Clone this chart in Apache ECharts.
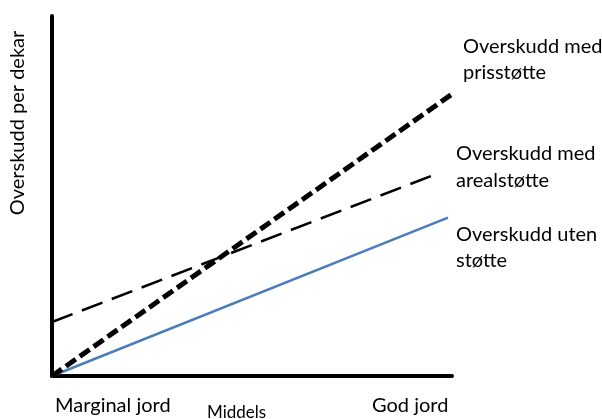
<!DOCTYPE html>
<html>
<head>
<meta charset="utf-8">
<script src="https://cdn.jsdelivr.net/npm/echarts@6/dist/echarts.min.js"></script>
<style>
  html, body { margin: 0; padding: 0; background: #fff; }
  #main { width: 602px; height: 419px; }
</style>
</head>
<body>
<div id="main"></div>
<script>
// x = jordkvalitet (0 = marginal, 100 = god), y = overskudd per dekar
var utenStotteX = [0, 99];
var utenStotteY = [0, 44];
var prisStotteX = [0, 100];
var prisStotteY = [0, 78.3];
var arealStotteX = [0, 96.75];
var arealStotteY = [15, 56.4];

var xLabels = ['Marginal jord', 'Middels', 'God jord'];
var seriesLabels = ['Overskudd med\nprisstøtte', 'Overskudd med\narealstøtte', 'Overskudd uten\nstøtte'];
var yTitle = 'Overskudd per dekar';

function pairs(xs, ys) {
  return xs.map(function (x, i) { return [x, ys[i]]; });
}

var font = 'Lato, "Open Sans", sans-serif';
var myChart = echarts.init(document.getElementById('main'));

myChart.setOption({
  animation: false,
  grid: { left: 52, right: 150, top: 16, bottom: 43 },
  xAxis: {
    type: 'value', min: 0, max: 100,
    axisLine: { show: true, lineStyle: { color: '#000', width: 4 } },
    axisTick: { show: false }, axisLabel: { show: false }, splitLine: { show: false }
  },
  yAxis: {
    type: 'value', min: 0, max: 100,
    axisLine: { show: true, lineStyle: { color: '#000', width: 4 } },
    axisTick: { show: false }, axisLabel: { show: false }, splitLine: { show: false }
  },
  series: [
    {
      name: 'uten', type: 'line', symbol: 'none', z: 3,
      data: pairs(utenStotteX, utenStotteY),
      lineStyle: { color: '#4a7ebb', width: 2.5 }
    },
    {
      name: 'areal', type: 'line', symbol: 'none', z: 4,
      data: pairs(arealStotteX, arealStotteY),
      lineStyle: { color: '#000', width: 2.5, type: [22, 10] }
    },
    {
      name: 'pris', type: 'line', symbol: 'none', z: 5,
      data: pairs(prisStotteX, prisStotteY),
      lineStyle: { color: '#000', width: 5, type: [12, 5] }
    }
  ],
  graphic: [
    { type: 'text', left: 55, top: 396, style: { text: xLabels[0], font: '20px ' + font, fill: '#000' } },
    { type: 'text', left: 207, top: 404, style: { text: xLabels[1], font: '17px ' + font, fill: '#000' } },
    { type: 'text', left: 372, top: 396, style: { text: xLabels[2], font: '20px ' + font, fill: '#000' } },
    { type: 'text', left: 463, top: 34, style: { text: seriesLabels[0], font: '20px ' + font, lineHeight: 26, fill: '#000' } },
    { type: 'text', left: 456, top: 140, style: { text: seriesLabels[1], font: '20px ' + font, lineHeight: 27, fill: '#000' } },
    { type: 'text', left: 456, top: 222, style: { text: seriesLabels[2], font: '20px ' + font, lineHeight: 26, fill: '#000' } },
    {
      type: 'text', x: 18, y: 123, rotation: Math.PI / 2,
      style: { text: yTitle, font: '20px ' + font, fill: '#000', align: 'center', verticalAlign: 'middle' }
    }
  ]
});
</script>
</body>
</html>
